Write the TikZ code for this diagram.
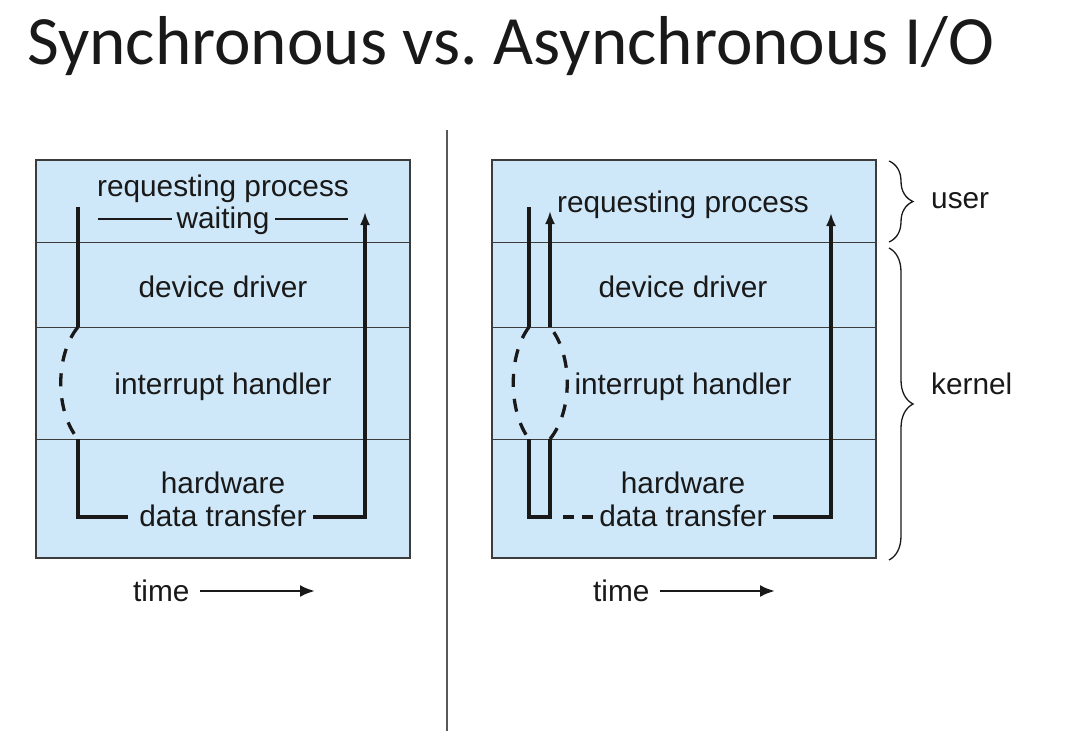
\documentclass[tikz,border=0pt]{standalone}
\usepackage{fontspec}
\setmainfont{Liberation Sans}
\newfontfamily\titlefont{Carlito}
\usetikzlibrary{arrows.meta,decorations.pathreplacing}
\definecolor{panelblue}{RGB}{207,232,249}
\definecolor{edgegray}{RGB}{60,60,60}
\definecolor{ink}{RGB}{25,25,25}
\frenchspacing
\begin{document}
\begin{tikzpicture}[x=1pt,y=-1pt,
  lbl/.style={font=\fontsize{29.8}{35}\selectfont, inner sep=0pt, anchor=base, text=ink},
  flow/.style={line width=3.3pt, draw=ink},
  dflow/.style={flow, dash pattern=on 13pt off 12pt},
  tipped/.style={-{Latex[length=13pt,width=10pt]}},
  timetip/.style={-{Latex[length=15pt,width=12pt]}},
  panel/.style={fill=panelblue, draw=edgegray, line width=1.2pt},
  sepline/.style={draw=edgegray, line width=1pt},
  bracestyle/.style={draw=ink, line width=1.3pt, decorate, decoration={brace, amplitude=24pt}}]

\useasboundingbox (0,0) rectangle (1071,741);

% title
\node[anchor=base west, inner sep=0pt, font=\titlefont\fontsize{69.2}{80}\selectfont, text=black!90] (title) at (27,65) {Synchronous vs. Asynchronous I/O};

% divider
\coordinate (dtop) at (447,130);
\coordinate (dbot) at (447,731);
\draw[line width=1.2pt, draw=black!65] (dtop) -- (dbot);

% ---------------- left panel ----------------
\draw[panel] (36,160) rectangle (410,558);
\coordinate (la1) at (36,242); \coordinate (lb1) at (410,242);
\coordinate (la2) at (36,327); \coordinate (lb2) at (410,327);
\coordinate (la3) at (36,439); \coordinate (lb3) at (410,439);
\draw[sepline] (la1) -- (lb1);
\draw[sepline] (la2) -- (lb2);
\draw[sepline] (la3) -- (lb3);

\node[lbl] (lreq) at (223,196) {requesting process};
\node[lbl] (lwait) at (223,228) {waiting};
\node[lbl] (ldev) at (223,297) {device driver};
\node[lbl] (lint) at (223,394) {interrupt handler};
\node[lbl] (lhw) at (223,493) {hardware};
\node[lbl] (ldt) at (223,526) {data transfer};

\coordinate (W1) at (98,219);  \coordinate (W2) at (172,219);
\coordinate (W3) at (275,219); \coordinate (W4) at (348,219);
\draw[line width=2.6pt, draw=ink] (W1) -- (W2);
\draw[line width=2.6pt, draw=ink] (W3) -- (W4);

\coordinate (L1) at (78,207);
\coordinate (L2) at (78,327);
\coordinate (L3) at (78,439);
\coordinate (L4) at (78,517);
\coordinate (L5) at (128,517);
\coordinate (L6) at (313,517);
\coordinate (L7) at (365,517);
\coordinate (L8) at (365,212);
\draw[flow] (L1) -- (L2);
\draw[dflow] (L2) .. controls (55,355) and (55,411) .. (L3);
\draw[flow] (L3) -- (L4) -- (L5);
\draw[flow, tipped] (L6) -- (L7) -- (L8);

\node[lbl, anchor=base west] (ltime) at (133,601) {time};
\coordinate (lt1) at (200,591);
\coordinate (lt2) at (315,591);
\draw[line width=2.6pt, draw=ink, timetip] (lt1) -- (lt2);

% ---------------- right panel ----------------
\draw[panel] (492,160) rectangle (876,558);
\coordinate (ra1) at (492,242); \coordinate (rb1) at (876,242);
\coordinate (ra2) at (492,327); \coordinate (rb2) at (876,327);
\coordinate (ra3) at (492,439); \coordinate (rb3) at (876,439);
\draw[sepline] (ra1) -- (rb1);
\draw[sepline] (ra2) -- (rb2);
\draw[sepline] (ra3) -- (rb3);

\node[lbl] (rreq) at (683,212) {requesting process};
\node[lbl] (rdev) at (683,297) {device driver};
\node[lbl] (rint) at (683,394) {interrupt handler};
\node[lbl] (rhw) at (683,493) {hardware};
\node[lbl] (rdt) at (683,526) {data transfer};

\coordinate (R1) at (529,207);
\coordinate (R2) at (529,327);
\coordinate (R3) at (529,439);
\coordinate (R4) at (529,517);
\coordinate (R5) at (550,517);
\coordinate (R6) at (550,439);
\coordinate (R7) at (550,327);
\coordinate (R8) at (550,211);
\draw[flow] (R1) -- (R2);
\draw[dflow] (R2) .. controls (508,355) and (508,411) .. (R3);
\draw[flow] (R3) -- (R4) -- (R5) -- (R6);
\draw[dflow] (R6) .. controls (573,411) and (573,355) .. (R7);
\draw[flow, tipped] (R7) -- (R8);
\coordinate (RD1) at (563,517);
\coordinate (RD2) at (597,517);
\draw[flow, dash pattern=on 11pt off 8pt] (RD1) -- (RD2);
\coordinate (R9) at (773,517);
\coordinate (R10) at (831,517);
\coordinate (R11) at (831,213);
\draw[flow, tipped] (R9) -- (R10) -- (R11);

\node[lbl, anchor=base west] (rtime) at (593,601) {time};
\coordinate (rt1) at (660,591);
\coordinate (rt2) at (775,591);
\draw[line width=2.6pt, draw=ink, timetip] (rt1) -- (rt2);

% braces
\coordinate (BU1) at (889,161);
\coordinate (BU2) at (889,242);
\coordinate (BK1) at (889,248);
\coordinate (BK2) at (889,560);
\draw[bracestyle] (BU1) -- (BU2);
\draw[bracestyle] (BK1) -- (BK2);
\node[lbl, anchor=base west] (user) at (931,208) {user};
\node[lbl, anchor=base west] (kernel) at (931,394) {kernel};
\end{tikzpicture}
\end{document}
